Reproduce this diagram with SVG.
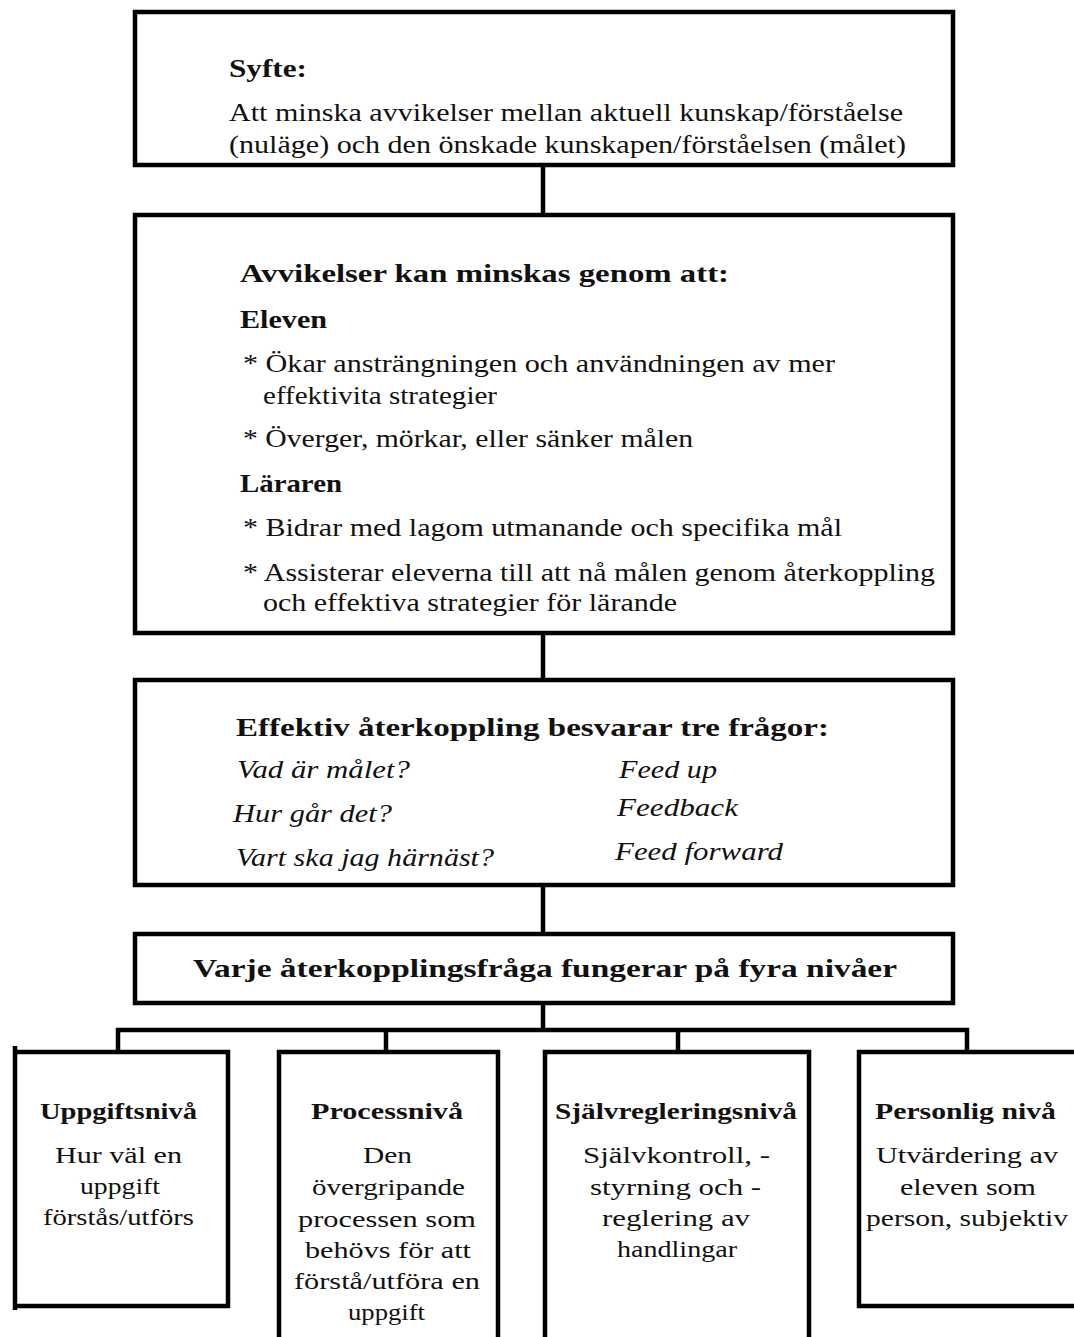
<svg xmlns="http://www.w3.org/2000/svg" width="1074" height="1337" viewBox="0 0 1074 1337" font-family="Liberation Serif, Times New Roman, serif" font-size="25">
<style>
.box{fill:#fff;stroke:#000;stroke-width:4.5}
.conn{fill:none;stroke:#000;stroke-width:4.5}
text{fill:#111}
.b{font-weight:bold}
.i{font-style:italic}
.s{font-size:24px}
</style>
<rect width="1074" height="1337" fill="#fff"/>
<g id="connectors">
<path class="conn" d="M543 165V213M543 633V678M543 885V932M543 1003V1030M118 1052V1030H967V1052M386 1030V1052M678 1030V1052"/>
</g>
<g id="syfte">
<rect class="box" x="135" y="12" width="818" height="153"/>
<text class="b" x="229" y="77" textLength="78" lengthAdjust="spacingAndGlyphs">Syfte:</text>
<text x="229" y="121" textLength="674" lengthAdjust="spacingAndGlyphs">Att minska  avvikelser  mellan  aktuell  kunskap/förståelse</text>
<text x="229" y="153" textLength="677" lengthAdjust="spacingAndGlyphs">(nuläge)  och den önskade kunskapen/förståelsen  (målet)</text>
</g>
<g id="avvikelser">
<rect class="box" x="135" y="215" width="818" height="418"/>
<text class="b" x="240" y="282" textLength="489" lengthAdjust="spacingAndGlyphs">Avvikelser kan minskas genom att:</text>
<text class="b" x="240" y="328" textLength="87" lengthAdjust="spacingAndGlyphs">Eleven</text>
<text x="243" y="372" textLength="592" lengthAdjust="spacingAndGlyphs">* Ökar ansträngningen  och användningen  av mer</text>
<text x="263" y="404" textLength="234" lengthAdjust="spacingAndGlyphs">effektivita  strategier</text>
<text x="243" y="447" textLength="450" lengthAdjust="spacingAndGlyphs">* Överger, mörkar,  eller  sänker målen</text>
<text class="b" x="240" y="492" textLength="102" lengthAdjust="spacingAndGlyphs">Läraren</text>
<text x="243" y="536" textLength="599" lengthAdjust="spacingAndGlyphs">* Bidrar  med lagom  utmanande  och specifika  mål</text>
<text x="243" y="581" textLength="692" lengthAdjust="spacingAndGlyphs">* Assisterar  eleverna  till  att nå målen  genom  återkoppling</text>
<text x="263" y="611" textLength="414" lengthAdjust="spacingAndGlyphs">och effektiva  strategier  för lärande</text>
</g>
<g id="effektiv">
<rect class="box" x="135" y="680" width="818" height="205"/>
<text class="b" x="236" y="736" textLength="593" lengthAdjust="spacingAndGlyphs">Effektiv  återkoppling besvarar  tre frågor:</text>
<text class="i" x="237" y="778" textLength="173" lengthAdjust="spacingAndGlyphs">Vad är målet?</text>
<text class="i" x="233" y="822" textLength="159" lengthAdjust="spacingAndGlyphs">Hur går det?</text>
<text class="i" x="236" y="866" textLength="258" lengthAdjust="spacingAndGlyphs">Vart ska jag härnäst?</text>
<text class="i" x="619" y="778" textLength="98" lengthAdjust="spacingAndGlyphs">Feed up</text>
<text class="i" x="617" y="816" textLength="121" lengthAdjust="spacingAndGlyphs">Feedback</text>
<text class="i" x="615" y="860" textLength="168" lengthAdjust="spacingAndGlyphs">Feed forward</text>
</g>
<g id="varje">
<rect class="box" x="135" y="934" width="818" height="69"/>
<text class="b" x="193" y="977" textLength="704" lengthAdjust="spacingAndGlyphs">Varje  återkopplingsfråga fungerar på fyra  nivåer</text>
</g>
<g id="uppgiftsniva">
<path class="box" d="M15 1046V1310M15 1052H228V1306H15"/>
<text class="b s" x="40" y="1119" textLength="157" lengthAdjust="spacingAndGlyphs">Uppgiftsnivå</text>
<text class="s" x="55" y="1163" textLength="127" lengthAdjust="spacingAndGlyphs">Hur väl en</text>
<text class="s" x="80" y="1194" textLength="80" lengthAdjust="spacingAndGlyphs">uppgift</text>
<text class="s" x="43" y="1225" textLength="151" lengthAdjust="spacingAndGlyphs">förstås/utförs</text>
</g>
<g id="processniva">
<path class="box" d="M279 1340V1052H498V1340"/>
<text class="b s" x="311" y="1119" textLength="152" lengthAdjust="spacingAndGlyphs">Processnivå</text>
<text class="s" x="363" y="1163" textLength="49" lengthAdjust="spacingAndGlyphs">Den</text>
<text class="s" x="312" y="1195" textLength="153" lengthAdjust="spacingAndGlyphs">övergripande</text>
<text class="s" x="298" y="1227" textLength="178" lengthAdjust="spacingAndGlyphs">processen  som</text>
<text class="s" x="305" y="1258" textLength="166" lengthAdjust="spacingAndGlyphs">behövs för  att</text>
<text class="s" x="294" y="1289" textLength="186" lengthAdjust="spacingAndGlyphs">förstå/utföra  en</text>
<text class="s" x="348" y="1320" textLength="77" lengthAdjust="spacingAndGlyphs">uppgift</text>
</g>
<g id="sjalvregleringsniva">
<path class="box" d="M545 1340V1052H809V1340"/>
<text class="b s" x="555" y="1119" textLength="242" lengthAdjust="spacingAndGlyphs">Självregleringsnivå</text>
<text class="s" x="583" y="1163" textLength="187" lengthAdjust="spacingAndGlyphs">Självkontroll,  -</text>
<text class="s" x="590" y="1195" textLength="171" lengthAdjust="spacingAndGlyphs">styrning  och -</text>
<text class="s" x="602" y="1226" textLength="148" lengthAdjust="spacingAndGlyphs">reglering  av</text>
<text class="s" x="617" y="1257" textLength="120" lengthAdjust="spacingAndGlyphs">handlingar</text>
</g>
<g id="personlig-niva">
<path class="box" d="M1078 1052H859V1306H1078"/>
<text class="b s" x="875" y="1119" textLength="181" lengthAdjust="spacingAndGlyphs">Personlig  nivå</text>
<text class="s" x="876" y="1163" textLength="182" lengthAdjust="spacingAndGlyphs">Utvärdering  av</text>
<text class="s" x="900" y="1195" textLength="136" lengthAdjust="spacingAndGlyphs">eleven  som</text>
<text class="s" x="866" y="1226" textLength="202" lengthAdjust="spacingAndGlyphs">person,  subjektiv</text>
</g>
</svg>
